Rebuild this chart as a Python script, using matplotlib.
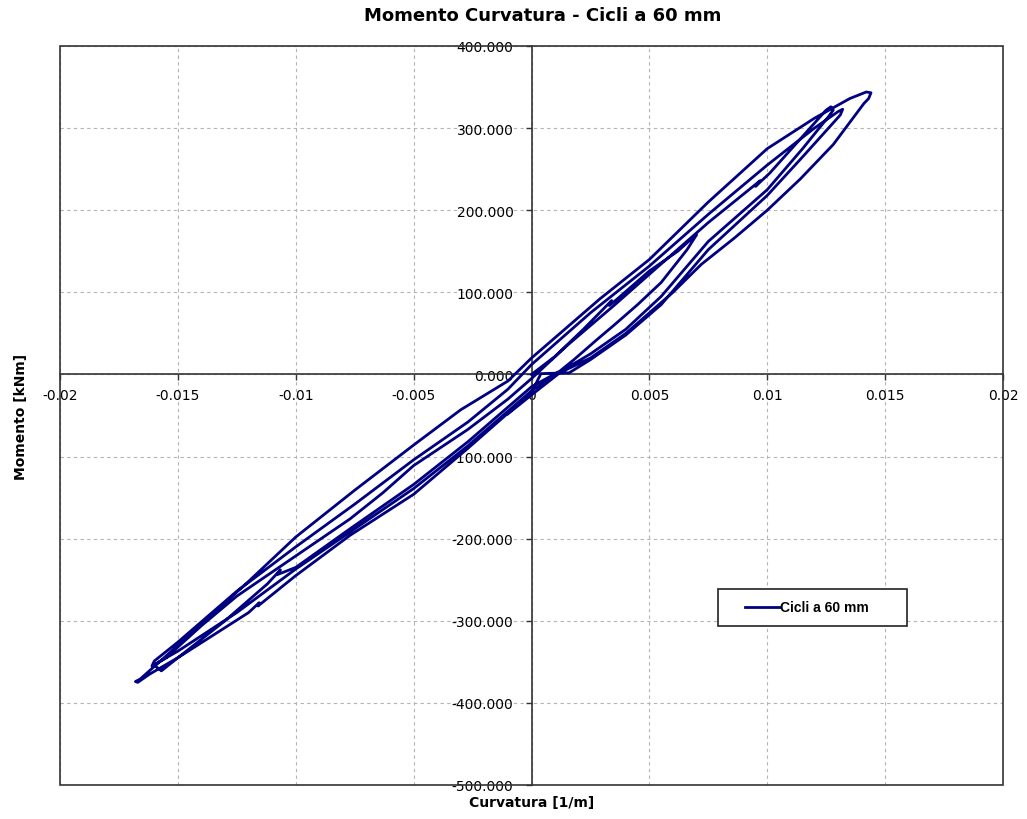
import matplotlib
matplotlib.use("Agg")
import matplotlib.pyplot as plt
from matplotlib.patches import Rectangle
from matplotlib.legend_handler import HandlerLine2D
from matplotlib.lines import Line2D

plt.rcParams['axes.unicode_minus'] = False

title = "Momento Curvatura - Cicli a 60 mm"
xlabel = "Curvatura [1/m]"
ylabel = "Momento [kNm]"
series_name = "Cicli a 60 mm"

x_ticks = [-0.02, -0.015, -0.01, -0.005, 0, 0.005, 0.01, 0.015, 0.02]
x_tick_labels = ["-0.02", "-0.015", "-0.01", "-0.005", "0", "0.005", "0.01", "0.015", "0.02"]
y_ticks = [-500, -400, -300, -200, -100, 0, 100, 200, 300, 400]
y_tick_labels = ["-500.000", "-400.000", "-300.000", "-200.000", "-100.000",
                 "0.000", "100.000", "200.000", "300.000", "400.000"]

# Branch A: initial loading to first positive tip
curv_A = [0.0, 0.0010, 0.0022, 0.0034, 0.0033, 0.0036, 0.0050, 0.0062, 0.0069, 0.0070]
mom_A = [0, 22, 55, 90, 84, 91, 126, 150, 168, 170]
# Branch B: unloading to first negative tip
curv_B = [0.0066, 0.0055, 0.0045, 0.0035, 0.0028, 0.0018, 0.0012, 0.0, -0.0027, -0.0050,
          -0.0077, -0.0100, -0.0108, -0.01065, -0.0112, -0.0130, -0.0150, -0.0157, -0.0160]
mom_B = [152, 112, 85, 60, 43, 18, 4, -15, -82, -134,
         -188, -235, -244, -238, -255, -300, -345, -361, -354]
# Branch C: reloading to second positive tip
curv_C = [-0.0155, -0.0140, -0.0125, -0.0100, -0.0077, -0.0063, -0.0050, -0.0027, -0.0010, 0.0,
          0.0015, 0.0035, 0.0050, 0.0075, 0.0097, 0.0095, 0.0101, 0.0115, 0.0125, 0.0127, 0.0128]
mom_C = [-345, -306, -270, -221, -176, -144, -111, -67, -30, -5,
         35, 84, 122, 185, 236, 229, 245, 290, 322, 326, 322]
# Branch D: unloading to second negative tip
curv_D = [0.0126, 0.0115, 0.0100, 0.0075, 0.0055, 0.0040, 0.0025, 0.0012, 0.0, -0.0027,
          -0.0050, -0.0077, -0.0100, -0.0125, -0.0150, -0.0158, -0.0161, -0.0160]
mom_D = [314, 275, 225, 162, 95, 55, 25, 3, -20, -87,
         -139, -192, -237, -290, -337, -350, -355, -349]
# Branch E: reloading to third positive tip
curv_E = [-0.0150, -0.0125, -0.0100, -0.0075, -0.0050, -0.0027, -0.0010, 0.0, 0.0025, 0.0050,
          0.0075, 0.0100, 0.0120, 0.0130, 0.0132, 0.0131]
mom_E = [-326, -264, -210, -158, -104, -58, -18, 12, 75, 132,
         195, 255, 300, 320, 323, 316]
# Branch F: unloading to third negative tip
curv_F = [0.0115, 0.0100, 0.0075, 0.0055, 0.0040, 0.0025, 0.0016, 0.0004, 0.0, -0.0027,
          -0.0050, -0.0077, -0.0100, -0.0116, -0.01155, -0.0120, -0.0150, -0.0162, -0.0167, -0.0168]
mom_F = [265, 218, 152, 85, 48, 18, 2, 1, -22, -90,
         -146, -196, -245, -282, -278, -290, -345, -365, -375, -374]
# Branch G: reloading to the largest positive tip
curv_G = [-0.0166, -0.0150, -0.0120, -0.0100, -0.0075, -0.0050, -0.0030, -0.0022, -0.0010,
          0.0, 0.0029, 0.0050, 0.0075, 0.0100, 0.0120, 0.0135, 0.0142, 0.0144, 0.0143]
mom_G = [-371, -330, -252, -198, -141, -86, -43, -29, -8,
         20, 92, 140, 210, 275, 312, 336, 344, 343, 336]
# Branch H: final unloading
curv_H = [0.0141, 0.0128, 0.0114, 0.0100, 0.0086, 0.0072, 0.0060, 0.0050, 0.0040, 0.0025,
          0.0012, 0.0, -0.0010]
mom_H = [330, 280, 238, 200, 166, 134, 100, 75, 50, 20,
         2, -25, -48]

curvatura = curv_A + curv_B + curv_C + curv_D + curv_E + curv_F + curv_G + curv_H
momento = mom_A + mom_B + mom_C + mom_D + mom_E + mom_F + mom_G + mom_H

fig = plt.figure(figsize=(10.27, 8.2), dpi=100)
ax = fig.add_axes([60/1027, 1 - 786/820, 943/1027, 739/820])

ax.set_xlim(-0.02, 0.02)
ax.set_ylim(-500, 400)

line_col = '#000080'
ax.plot(curvatura, momento, color=line_col, lw=2.0, label=series_name,
        solid_joinstyle='round', zorder=3)

ax.set_xticks(x_ticks)
ax.set_xticklabels(x_tick_labels, fontsize=12, family='Liberation Sans')
ax.set_yticks(y_ticks)
ax.set_yticklabels(y_tick_labels, fontsize=12, family='Liberation Sans')

ax.grid(True, color='#b4b4b4', linestyle=(0, (3, 3)), linewidth=0.8, zorder=0)

axis_col = '#333333'
for s in ['top', 'right']:
    ax.spines[s].set_visible(False)
ax.spines['left'].set_position(('data', 0))
ax.spines['bottom'].set_position(('data', 0))
ax.spines['left'].set_color(axis_col)
ax.spines['bottom'].set_color(axis_col)
ax.spines['left'].set_linewidth(1.2)
ax.spines['bottom'].set_linewidth(1.2)
ax.add_patch(Rectangle((0, 0), 1, 1, transform=ax.transAxes, fill=False,
                       edgecolor=axis_col, linewidth=1.2, clip_on=False, zorder=5))

ax.tick_params(axis='x', direction='out', length=4, width=1, color=axis_col, pad=6)
ax.tick_params(axis='y', direction='out', length=4, width=1, color=axis_col, pad=9)
ax.set_axisbelow(True)

ax.set_xlabel(xlabel, fontsize=10, fontweight='bold', family='DejaVu Sans')
ax.xaxis.set_label_coords(0.5005, -0.014)
ax.set_ylabel(ylabel, fontsize=10, fontweight='bold', family='DejaVu Sans')
ax.yaxis.set_label_coords(-0.034, 0.5)

fig.text(543/1027, 1 - 16/820, title, ha='center', va='center',
         fontsize=13, fontweight='bold', family='DejaVu Sans')

leg = ax.legend(loc='center',
                bbox_to_anchor=((718 - 60) / 943, (786 - 629) / 739, 189 / 943, 41 / 739),
                mode='expand', borderaxespad=0, frameon=True, fancybox=False,
                handlelength=3.6, handletextpad=0.0, borderpad=0.85,
                handler_map={Line2D: HandlerLine2D(xpad=1.1)},
                prop={'family': 'Liberation Sans', 'weight': 'bold', 'size': 10})
leg.get_frame().set_edgecolor('#222222')
leg.get_frame().set_linewidth(1.2)
leg.get_frame().set_alpha(1)

fig.savefig('out.png', dpi=100)
